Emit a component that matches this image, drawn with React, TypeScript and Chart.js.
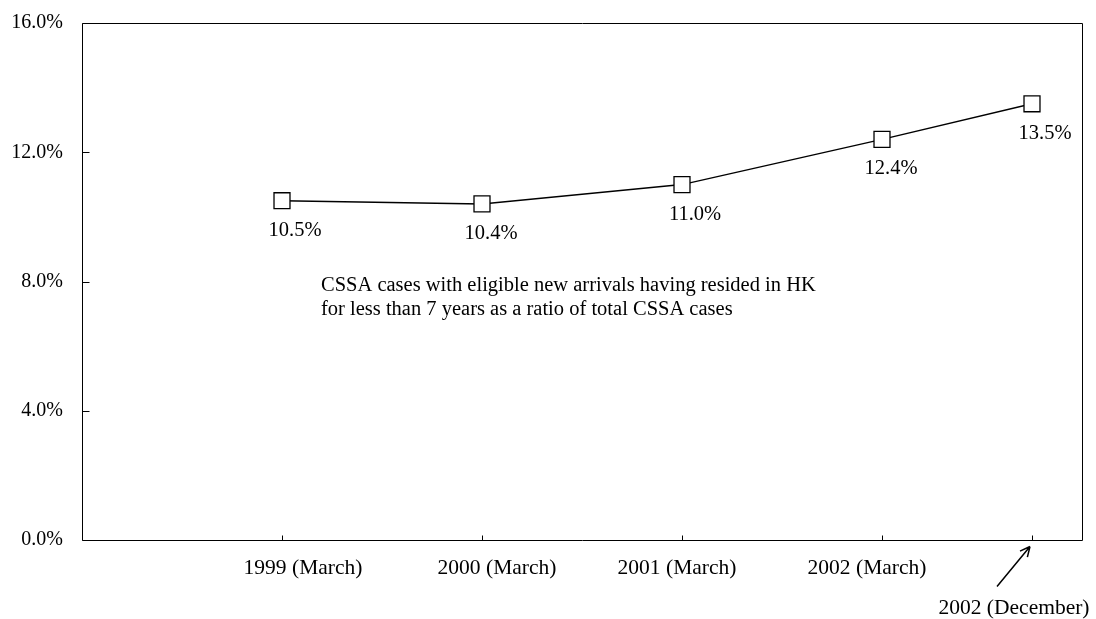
import React, { useEffect, useRef } from 'react';
import { Chart, registerables } from 'chart.js';

Chart.register(...registerables);

const categories = ['1999 (March)', '2000 (March)', '2001 (March)', '2002 (March)', '2002 (December)'];
const timePositions = [1999, 2000, 2001, 2002, 2002.75];
const ratioValues = [10.5, 10.4, 11.0, 12.4, 13.5];
const yTicks = [0, 4, 8, 12, 16];
const noteLines = [
  'CSSA cases with eligible new arrivals having resided in HK',
  'for less than 7 years as a ratio of total CSSA cases',
];

const SERIF = '"Liberation Serif", "Times New Roman", serif';

const overlayPlugin = {
  id: 'overlay',
  afterDraw(chart: any) {
    const { ctx, chartArea, scales } = chart;
    const x = scales.x;
    const y = scales.y;
    const left = Math.round(chartArea.left) + 0.5;
    const top = Math.round(chartArea.top) + 0.5;
    const right = Math.round(chartArea.right) + 0.5;
    const bottom = Math.round(chartArea.bottom) + 0.5;
    ctx.save();
    ctx.strokeStyle = '#000';
    ctx.fillStyle = '#000';
    ctx.lineWidth = 1;
    // frame
    ctx.beginPath();
    ctx.moveTo(left, top);
    ctx.lineTo(right, top);
    ctx.lineTo(right, bottom);
    ctx.lineTo(left, bottom);
    ctx.closePath();
    ctx.stroke();
    // inside ticks
    ctx.beginPath();
    yTicks.forEach((v) => {
      const py = Math.round(y.getPixelForValue(v)) + 0.5;
      ctx.moveTo(left, py);
      ctx.lineTo(left + 7, py);
    });
    timePositions.forEach((v) => {
      const px = Math.round(x.getPixelForValue(v)) + 0.5;
      ctx.moveTo(px, bottom);
      ctx.lineTo(px, bottom - 5);
    });
    ctx.stroke();

    // x category labels (slightly shifted as in the original layout)
    const xLabelShift = [21, 15, -5, -15];
    ctx.font = '21.5px ' + SERIF;
    ctx.textAlign = 'center';
    ctx.textBaseline = 'alphabetic';
    for (let i = 0; i < 4; i++) {
      const px = x.getPixelForValue(timePositions[i]);
      ctx.fillText(categories[i], px + xLabelShift[i], bottom + 33);
    }

    // data labels
    ctx.font = '20.5px ' + SERIF;
    const labelShift = [13, 9, 13, 9, 13];
    const meta = chart.getDatasetMeta(0);
    meta.data.forEach((pt: any, i: number) => {
      ctx.fillText(ratioValues[i].toFixed(1) + '%', pt.x + labelShift[i], pt.y + 35);
    });

    // note
    ctx.textAlign = 'left';
    const nx = x.getPixelForValue(1999.195);
    const ny = y.getPixelForValue(7.7);
    noteLines.forEach((line, i) => {
      ctx.fillText(line, nx, ny + i * 24);
    });

    // December label + arrow
    const dx = x.getPixelForValue(timePositions[4]);
    ctx.font = '21.5px ' + SERIF;
    ctx.textAlign = 'center';
    ctx.fillText(categories[4], dx - 18, bottom + 73);
    const tipX = dx - 2;
    const tipY = bottom + 6;
    const tailX = dx - 35;
    const tailY = bottom + 46;
    ctx.lineWidth = 1.5;
    ctx.beginPath();
    ctx.moveTo(tailX, tailY);
    ctx.lineTo(tipX, tipY);
    const ang = Math.atan2(tipY - tailY, tipX - tailX);
    const hl = 11;
    ctx.moveTo(tipX, tipY);
    ctx.lineTo(tipX - hl * Math.cos(ang - 0.45), tipY - hl * Math.sin(ang - 0.45));
    ctx.moveTo(tipX, tipY);
    ctx.lineTo(tipX - hl * Math.cos(ang + 0.45), tipY - hl * Math.sin(ang + 0.45));
    ctx.stroke();
    ctx.restore();
  },
};

export default function App() {
  const canvasRef = useRef<HTMLCanvasElement | null>(null);

  useEffect(() => {
    if (!canvasRef.current) return;
    const chart = new Chart(canvasRef.current, {
      type: 'line',
      data: {
        datasets: [
          {
            label: 'Ratio',
            data: timePositions.map((t, i) => ({ x: t, y: ratioValues[i] })),
            borderColor: '#000',
            borderWidth: 1.4,
            pointStyle: 'rect',
            pointRadius: 11.3,
            pointHoverRadius: 11.3,
            pointBackgroundColor: '#fff',
            pointBorderColor: '#000',
            pointBorderWidth: 1.3,
            tension: 0,
            fill: false,
          },
        ],
      },
      options: {
        animation: false,
        responsive: false,
        events: [],
        layout: { padding: { left: 0, top: 23, right: 14, bottom: 0 } },
        plugins: {
          legend: { display: false },
          tooltip: { enabled: false },
        },
        scales: {
          x: {
            type: 'linear',
            min: 1998,
            max: 2003,
            grid: { display: false, drawTicks: false },
            border: { display: false },
            afterBuildTicks: (scale: any) => {
              scale.ticks = timePositions.map((v) => ({ value: v }));
            },
            afterFit: (scale: any) => {
              scale.height = 79;
              scale.paddingLeft = 0;
              scale.paddingRight = 0;
              scale.paddingTop = 0;
              scale.paddingBottom = 0;
            },
            ticks: {
              autoSkip: false,
              maxRotation: 0,
              minRotation: 0,
              padding: 14,
              color: '#000',
              font: { family: SERIF, size: 20 },
              callback: () => '',
            },
          },
          y: {
            min: 0,
            max: 16,
            grid: { display: false, drawTicks: false },
            border: { display: false },
            afterBuildTicks: (scale: any) => {
              scale.ticks = yTicks.map((v) => ({ value: v }));
            },
            afterFit: (scale: any) => {
              scale.width = 82;
              scale.paddingLeft = 0;
              scale.paddingRight = 0;
              scale.paddingTop = 0;
              scale.paddingBottom = 0;
            },
            ticks: {
              padding: 19,
              color: '#000',
              font: { family: SERIF, size: 20 },
              callback: (v: any) => Number(v).toFixed(1) + '%',
            },
          },
        },
      },
      plugins: [overlayPlugin],
    });
    return () => chart.destroy();
  }, []);

  return (
    <div style={{ position: 'fixed', left: 0, top: 0, width: 1096, height: 619, background: '#fff' }}>
      <canvas ref={canvasRef} width={1096} height={619} style={{ display: 'block', width: 1096, height: 619 }} />
    </div>
  );
}
